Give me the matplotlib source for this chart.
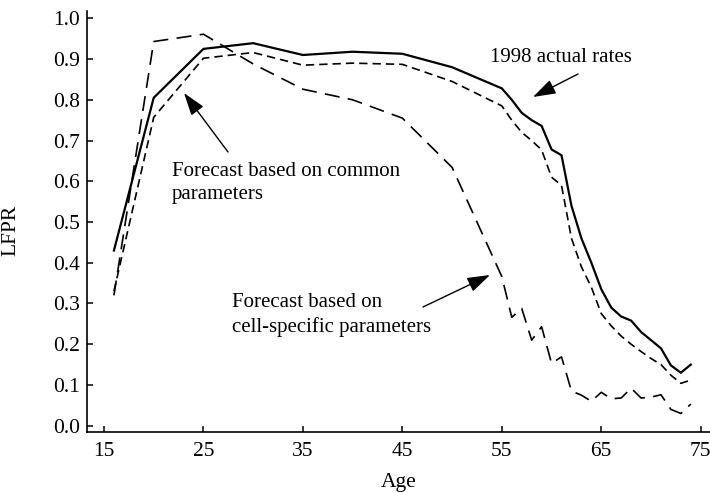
import numpy as np
import matplotlib.pyplot as plt

plt.rcParams['font.family'] = ['Liberation Serif', 'DejaVu Serif']

ages = [16, 20, 25, 30, 35, 40, 45, 50, 55, 56, 57, 58, 59, 60, 61, 62, 63, 64,
        65, 66, 67, 68, 69, 70, 71, 72, 73, 74]
actual_1998 = [0.43, 0.805, 0.925, 0.939, 0.91, 0.918, 0.913, 0.88, 0.828, 0.80,
               0.768, 0.75, 0.736, 0.678, 0.664, 0.54, 0.46, 0.40, 0.335, 0.29,
               0.268, 0.258, 0.23, 0.21, 0.19, 0.148, 0.13, 0.15]
common_params = [0.33, 0.757, 0.902, 0.916, 0.885, 0.89, 0.887, 0.845, 0.785, 0.75,
                 0.72, 0.70, 0.677, 0.61, 0.59, 0.46, 0.39, 0.34, 0.275, 0.245,
                 0.22, 0.20, 0.182, 0.165, 0.15, 0.124, 0.104, 0.112]
cell_params = [0.32, 0.943, 0.961, 0.888, 0.826, 0.80, 0.755, 0.634, 0.366, 0.266,
               0.288, 0.21, 0.243, 0.153, 0.169, 0.085, 0.075, 0.06, 0.082, 0.066,
               0.068, 0.092, 0.068, 0.07, 0.076, 0.04, 0.03, 0.053]

x_ticks = [15, 25, 35, 45, 55, 65, 75]
y_ticks = np.round(np.arange(0, 1.01, 0.1), 1)

fig = plt.figure(figsize=(7.1, 4.93), dpi=100)
ax = fig.add_axes([0.1225, 0.1237, 0.8775, 0.854])

ax.plot(ages, actual_1998, color='black', lw=1.6)
ax.plot(ages, common_params, color='black', lw=1.2, dashes=(5, 3))
ax.plot(ages, cell_params, color='black', lw=1.2, dashes=(9, 5))

ax.set_xlim(13.29, 75.93)
ax.set_ylim(-0.0155, 1.018)
ax.set_xticks(x_ticks)
ax.set_yticks(y_ticks)
ax.set_yticklabels(['%.1f' % v for v in y_ticks])
ax.tick_params(direction='in', length=4, width=1.1, labelsize=15.5, colors='black')
ax.tick_params(axis='x', pad=7)
ax.tick_params(axis='y', pad=5)
for s in ['top', 'right']:
    ax.spines[s].set_visible(False)
for s in ['left', 'bottom']:
    ax.spines[s].set_linewidth(1.2)

ax.set_xlabel('Age', fontsize=15.5, labelpad=9)
ax.set_ylabel('LFPR', fontsize=15.5)
ax.yaxis.set_label_coords(-0.1075, 0.48)

arrow = dict(arrowstyle='-|>,head_length=1.0,head_width=0.33', color='black',
             lw=1.0, shrinkA=0, shrinkB=0)

def px(x, y):
    return (x / 710.0, 1 - y / 493.0)

ax.annotate('1998 actual rates', xy=px(490, 58),
            xycoords='figure fraction', fontsize=15, ha='left', va='center')
ax.annotate('', xy=px(533, 97), xytext=px(578, 74),
            xycoords='figure fraction', textcoords='figure fraction',
            arrowprops=arrow, fontsize=14)

ax.annotate('Forecast based on common\nparameters', xy=px(172, 183),
            xycoords='figure fraction', fontsize=15, ha='left', va='center',
            linespacing=1.35)
ax.annotate('', xy=px(184, 93), xytext=px(228, 152),
            xycoords='figure fraction', textcoords='figure fraction',
            arrowprops=arrow, fontsize=14)

ax.annotate('Forecast based on\ncell-specific parameters', xy=px(232, 315),
            xycoords='figure fraction', fontsize=15, ha='left', va='center',
            linespacing=1.35)
ax.annotate('', xy=px(490, 275), xytext=px(423, 307),
            xycoords='figure fraction', textcoords='figure fraction',
            arrowprops=arrow, fontsize=14)

fig.savefig('out.png', dpi=100)
